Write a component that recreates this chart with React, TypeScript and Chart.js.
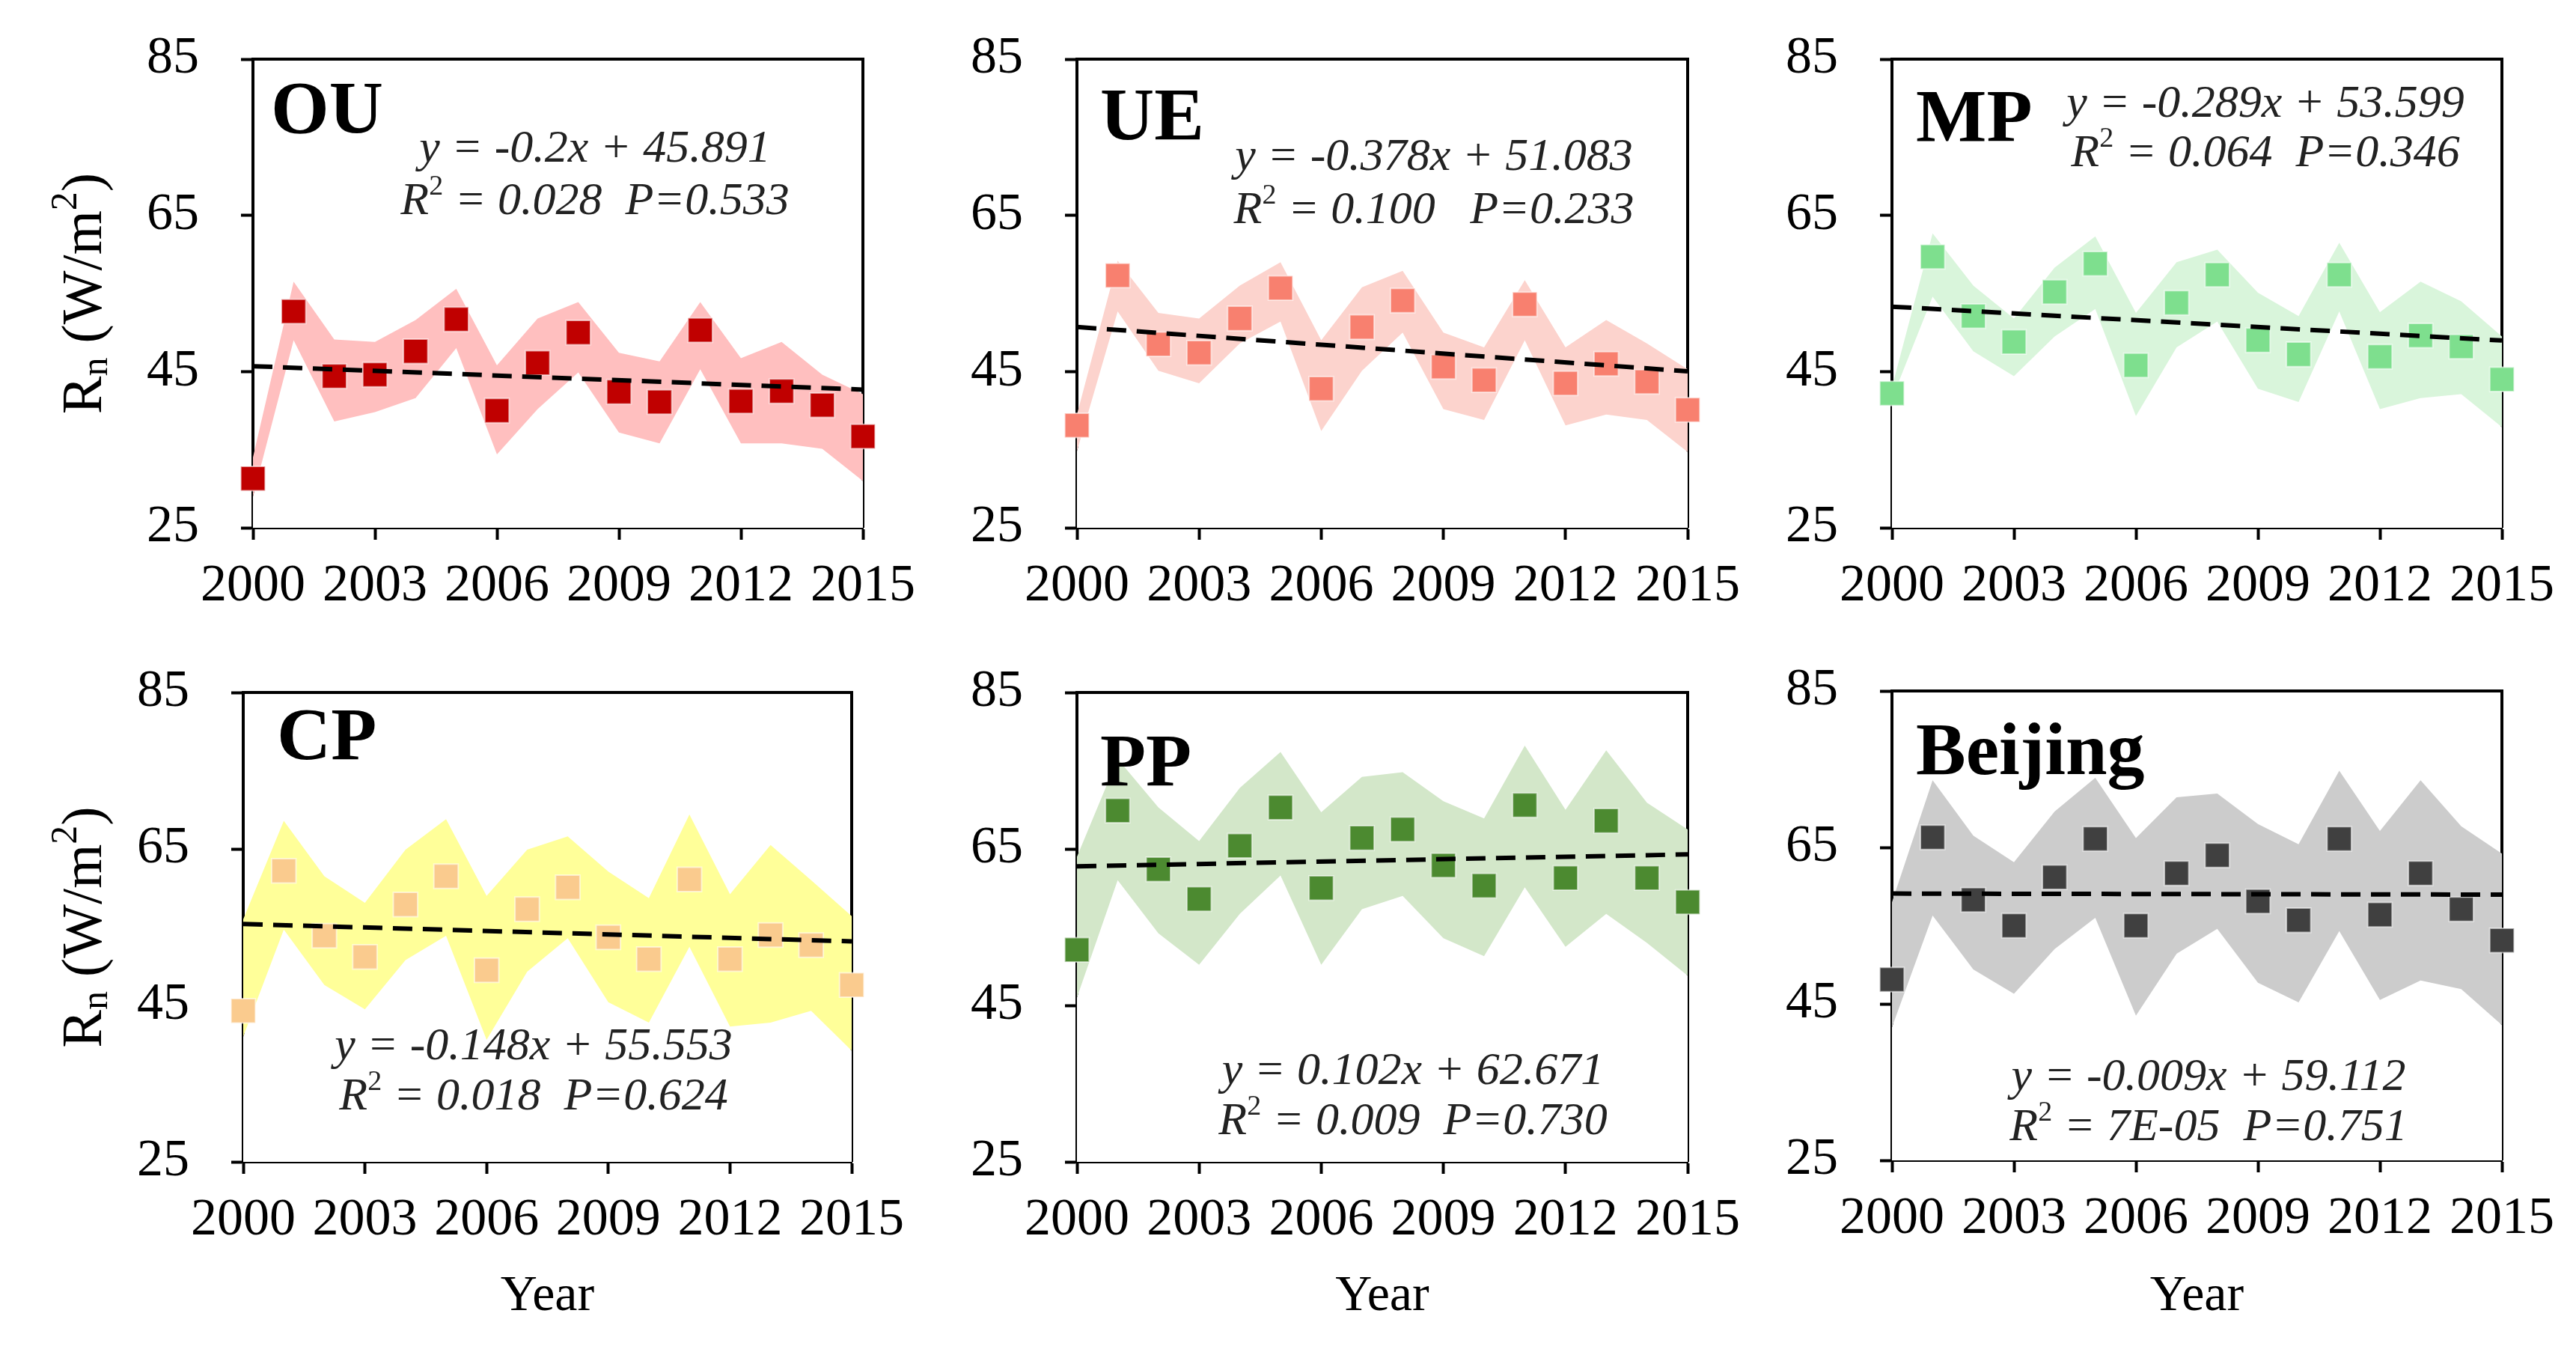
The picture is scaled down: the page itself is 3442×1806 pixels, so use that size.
import React, { useEffect, useRef } from 'react';
import { Chart, registerables } from 'chart.js';

Chart.register(...registerables);

// ---------------- data ----------------
const years = [2000, 2001, 2002, 2003, 2004, 2005, 2006, 2007, 2008, 2009, 2010, 2011, 2012, 2013, 2014, 2015];
const xTickValues = [2000, 2003, 2006, 2009, 2012, 2015];
const yTickValues = [25, 45, 65, 85];

const ouMean = [31.3, 52.7, 44.4, 44.6, 47.6, 51.7, 40.0, 46.1, 50.0, 42.4, 41.1, 50.3, 41.2, 42.5, 40.7, 36.7];
const ouUpper = [34.0, 56.5, 49.1, 48.8, 51.6, 55.6, 45.8, 51.8, 53.9, 47.4, 46.3, 53.9, 46.7, 48.8, 44.6, 42.1];
const ouLower = [29.0, 49.0, 38.6, 39.8, 41.6, 48.0, 34.4, 40.2, 44.9, 37.2, 35.8, 45.3, 35.8, 35.8, 35.1, 31.0];

const ueMean = [38.1, 57.3, 48.5, 47.4, 51.8, 55.7, 42.8, 50.7, 54.1, 45.6, 43.9, 53.6, 43.5, 46.0, 43.7, 40.1];
const ueUpper = [39.5, 59.2, 52.5, 51.8, 56.0, 59.0, 49.0, 55.8, 57.9, 50.0, 48.1, 56.7, 48.1, 51.6, 48.6, 45.3];
const ueLower = [34.8, 52.7, 45.1, 43.5, 48.6, 51.4, 37.4, 45.1, 50.0, 40.2, 38.8, 49.0, 38.1, 39.5, 38.8, 34.7];

const mpMean = [42.2, 59.7, 52.1, 48.8, 55.2, 58.8, 45.8, 53.8, 57.4, 49.0, 47.2, 57.4, 46.9, 49.6, 48.2, 44.0];
const mpUpper = [43.0, 62.7, 56.0, 51.8, 58.3, 62.3, 52.5, 59.0, 60.6, 55.1, 52.1, 61.5, 52.6, 56.5, 54.0, 49.5];
const mpLower = [41.5, 54.6, 47.6, 44.4, 49.5, 53.0, 39.3, 48.1, 51.4, 42.8, 41.1, 52.7, 40.2, 41.6, 42.1, 37.9];

const cpMean = [44.3, 62.2, 53.9, 51.2, 57.9, 61.5, 49.5, 57.3, 60.1, 53.7, 50.9, 61.1, 50.9, 54.0, 52.7, 47.6];
const cpUpper = [56.0, 68.6, 61.5, 58.1, 64.9, 68.8, 59.0, 64.9, 66.6, 62.1, 58.7, 69.4, 59.2, 65.5, 61.0, 56.4];
const cpLower = [41.0, 54.7, 47.6, 44.5, 50.8, 53.9, 40.6, 49.3, 53.6, 45.4, 42.8, 52.5, 42.3, 42.8, 44.3, 39.2];

const ppMean = [52.1, 69.9, 62.4, 58.6, 65.4, 70.3, 60.0, 66.4, 67.5, 62.9, 60.3, 70.6, 61.3, 68.6, 61.3, 58.2];
const ppUpper = [64.0, 76.5, 70.3, 66.0, 72.8, 77.4, 69.7, 74.2, 74.8, 71.1, 68.9, 78.2, 70.0, 77.6, 70.9, 67.5];
const ppLower = [46.0, 61.0, 54.2, 50.2, 56.7, 61.6, 50.2, 57.3, 59.0, 53.6, 51.3, 60.1, 52.5, 56.7, 53.0, 48.8];

const bjMean = [48.1, 66.3, 58.3, 55.0, 61.2, 66.1, 55.0, 61.7, 64.0, 58.1, 55.7, 66.1, 56.4, 61.7, 57.1, 53.1];
const bjUpper = [58.0, 73.6, 66.5, 63.1, 69.6, 73.9, 66.2, 71.4, 71.9, 68.0, 65.4, 74.8, 67.1, 73.6, 67.7, 64.2];
const bjLower = [42.0, 56.3, 49.4, 46.3, 52.0, 56.0, 43.5, 51.4, 54.6, 47.7, 45.2, 54.3, 45.5, 48.0, 46.9, 42.3];

const panelNames = ['OU', 'UE', 'MP', 'CP', 'PP', 'Beijing'];
const trendSlopes = [-0.2, -0.378, -0.289, -0.148, 0.102, -0.009];
const trendIntercepts = [45.891, 51.083, 53.599, 55.553, 62.671, 59.112];
const eqTexts = ['y = -0.2x + 45.891', 'y = -0.378x + 51.083', 'y = -0.289x + 53.599', 'y = -0.148x + 55.553', 'y = 0.102x + 62.671', 'y = -0.009x + 59.112'];
const statTexts = [' = 0.028  P=0.533', ' = 0.100   P=0.233', ' = 0.064  P=0.346', ' = 0.018  P=0.624', ' = 0.009  P=0.730', ' = 7E-05  P=0.751'];
const yAxisTitle = ['R', 'n', ' (W/m', '2', ')'];
const xAxisTitle = 'Year';

const means = [ouMean, ueMean, mpMean, cpMean, ppMean, bjMean];
const uppers = [ouUpper, ueUpper, mpUpper, cpUpper, ppUpper, bjUpper];
const lowers = [ouLower, ueLower, mpLower, cpLower, ppLower, bjLower];

// ---------------- styles / layout ----------------
const markerColors = ['#C00000', '#F8806F', '#7EDF8E', '#FACB8E', '#4C8A30', '#404040'];
const bandColors = ['#FFBFBF', '#FCD3CD', '#D9F5DB', '#FFFF99', '#D3E7C9', '#CCCCCC'];

// plot rectangles [left, top, right, bottom] in page pixels
const plotRects = [
  [338, 79, 1153, 705],
  [1439, 79, 2255, 705],
  [2528, 79, 3343, 705],
  [325, 925, 1138, 1552],
  [1439, 925, 2255, 1552],
  [2528, 923, 3343, 1550],
];
const titlePos = [[362, 177], [1470, 186], [2560, 188], [370, 1014], [1470, 1049], [2560, 1034]];
const eqPos = [[795, 200, 270], [1916, 211, 282], [3027, 140, 206], [713, 1399, 1466], [1888, 1432, 1499], [2951, 1440, 1507]];
const showYTitle = [true, false, false, true, false, false];
const showXTitle = [false, false, false, true, true, true];
const yTitleX = 115;
const xTitleY = 1732;

const PAD_L = 320, PAD_R = 120, PAD_T = 120, PAD_B = 250;
const Y_AXIS_W = 200, X_AXIS_H = 120;
const SERIF = '"Liberation Serif", "Times New Roman", serif';

function makePlugin(i: number, x0: number, y0: number) {
  return {
    id: 'decor' + i,
    beforeDatasetsDraw(chart: any) {
      const { ctx, chartArea: a } = chart;
      ctx.save();
      ctx.strokeStyle = '#000';
      ctx.lineWidth = 4;
      ctx.beginPath();
      ctx.moveTo(a.left - 2, a.top);
      ctx.lineTo(a.right, a.top);
      ctx.lineTo(a.right, a.bottom);
      ctx.stroke();
      ctx.restore();
    },
    afterDraw(chart: any) {
      const ctx = chart.ctx as CanvasRenderingContext2D;
      ctx.save();
      // panel title
      ctx.fillStyle = '#000';
      ctx.font = `bold 100px ${SERIF}`;
      ctx.textAlign = 'left';
      ctx.textBaseline = 'alphabetic';
      ctx.fillText(panelNames[i], titlePos[i][0] - x0, titlePos[i][1] - y0);

      // equation
      const [ecx, ey1, ey2] = eqPos[i];
      ctx.fillStyle = '#222';
      ctx.textBaseline = 'middle';
      ctx.font = `italic 62px ${SERIF}`;
      ctx.textAlign = 'center';
      ctx.fillText(eqTexts[i], ecx - x0, ey1 - y0);
      // R^2 line
      ctx.textAlign = 'left';
      ctx.font = `italic 62px ${SERIF}`;
      const wR = ctx.measureText('R').width;
      const wRest = ctx.measureText(statTexts[i]).width;
      ctx.font = `38px ${SERIF}`;
      const w2 = ctx.measureText('2').width;
      const total = wR + w2 + wRest;
      let sx = ecx - x0 - total / 2;
      ctx.font = `italic 62px ${SERIF}`;
      ctx.fillText('R', sx, ey2 - y0);
      sx += wR;
      ctx.font = `38px ${SERIF}`;
      ctx.fillText('2', sx, ey2 - y0 - 20);
      sx += w2;
      ctx.font = `italic 62px ${SERIF}`;
      ctx.fillText(statTexts[i], sx, ey2 - y0);

      const a = chart.chartArea;
      // y axis title
      if (showYTitle[i]) {
        ctx.fillStyle = '#000';
        const big = `76px ${SERIF}`;
        const small = `50px ${SERIF}`;
        const parts = yAxisTitle.map((t, k) => ({ t, f: k === 1 || k === 3 ? small : big, dy: k === 1 ? 15 : k === 3 ? -26 : 0 }));
        let tw = 0;
        parts.forEach(p => { ctx.font = p.f; tw += ctx.measureText(p.t).width; });
        const cy = (a.top + a.bottom) / 2;
        ctx.translate(yTitleX - x0, cy);
        ctx.rotate(-Math.PI / 2);
        ctx.textBaseline = 'middle';
        ctx.textAlign = 'left';
        let px = -tw / 2;
        parts.forEach(p => {
          ctx.font = p.f;
          ctx.fillText(p.t, px, p.dy);
          px += ctx.measureText(p.t).width;
        });
        ctx.setTransform(1, 0, 0, 1, 0, 0);
      }
      if (showXTitle[i]) {
        ctx.fillStyle = '#000';
        ctx.font = `68px ${SERIF}`;
        ctx.textAlign = 'center';
        ctx.textBaseline = 'middle';
        ctx.fillText(xAxisTitle, (a.left + a.right) / 2, xTitleY - y0);
      }
      ctx.restore();
    },
  };
}

function canvasRect(i: number) {
  const [L, T, R, B] = plotRects[i];
  const x0 = L - PAD_L;
  const y0 = T - PAD_T;
  return { x0, y0, w: R - L + PAD_L + PAD_R, h: B - T + PAD_T + PAD_B };
}

function buildConfig(i: number): any {
  const { x0, y0 } = canvasRect(i);
  const pts = (arr: number[]) => arr.map((v, k) => ({ x: years[k], y: v }));
  const n = years.length;
  const trend = [
    { x: years[0], y: trendIntercepts[i] + trendSlopes[i] * 1 },
    { x: years[n - 1], y: trendIntercepts[i] + trendSlopes[i] * n },
  ];
  return {
    type: 'line',
    data: {
      datasets: [
        { data: pts(lowers[i]), borderColor: 'rgba(0,0,0,0)', borderWidth: 0, pointRadius: 0, fill: 'start', backgroundColor: '#ffffff', order: 4, tension: 0 },
        { data: pts(uppers[i]), borderColor: 'rgba(0,0,0,0)', borderWidth: 0, pointRadius: 0, fill: '-1', backgroundColor: bandColors[i], order: 3, tension: 0 },
        { data: trend, borderColor: '#000', borderWidth: 6, borderDash: [26, 14], pointRadius: 0, fill: false, order: 0 },
        {
          data: pts(means[i]), showLine: false, pointStyle: 'rect', pointRadius: 23,
          backgroundColor: markerColors[i], borderColor: 'rgba(255,255,255,0.55)', borderWidth: 2,
          clip: false, order: 1, fill: false,
        },
      ],
    },
    options: {
      responsive: false,
      animation: false,
      devicePixelRatio: 1,
      events: [],
      layout: { padding: { left: PAD_L - Y_AXIS_W, top: PAD_T, right: PAD_R, bottom: PAD_B - X_AXIS_H } },
      plugins: { legend: { display: false }, tooltip: { enabled: false }, title: { display: false } },
      scales: {
        x: {
          type: 'linear', min: 2000, max: 2015, z: 1,
          afterBuildTicks: (s: any) => { s.ticks = xTickValues.map(v => ({ value: v })); },
          afterFit: (s: any) => { s.height = X_AXIS_H; },
          grid: { display: true, drawOnChartArea: false, drawTicks: true, tickLength: 16, tickWidth: 4, tickColor: '#000' },
          border: { display: true, color: '#000', width: 4 },
          ticks: {
            font: { family: SERIF, size: 70 }, color: '#000', padding: 21,
            maxRotation: 0, autoSkip: false, callback: (v: any) => String(v),
          },
        },
        y: {
          type: 'linear', min: 25, max: 85,
          afterBuildTicks: (s: any) => { s.ticks = yTickValues.map(v => ({ value: v })); },
          afterFit: (s: any) => { s.width = Y_AXIS_W; },
          grid: { display: true, drawOnChartArea: false, drawTicks: true, tickLength: 16, tickWidth: 4, tickColor: '#000' },
          border: { display: true, color: '#000', width: 4 },
          ticks: { font: { family: SERIF, size: 70 }, color: '#000', padding: 56, callback: (v: any) => String(v) },
        },
      },
    },
    plugins: [makePlugin(i, x0, y0)],
  };
}

export default function App() {
  const refs = useRef<(HTMLCanvasElement | null)[]>([]);

  useEffect(() => {
    document.body.style.margin = '0';
    const charts: Chart[] = [];
    panelNames.forEach((_, i) => {
      const c = refs.current[i];
      if (c) charts.push(new Chart(c, buildConfig(i)));
    });
    return () => { charts.forEach(ch => ch.destroy()); };
  }, []);

  return (
    <div style={{ position: 'relative', width: 3442, height: 1806, background: '#fff', overflow: 'hidden' }}>
      {panelNames.map((name, i) => {
        const r = canvasRect(i);
        return (
          <canvas
            key={name}
            ref={el => { refs.current[i] = el; }}
            width={r.w}
            height={r.h}
            style={{ position: 'absolute', left: r.x0, top: r.y0, width: r.w, height: r.h }}
          />
        );
      })}
    </div>
  );
}
